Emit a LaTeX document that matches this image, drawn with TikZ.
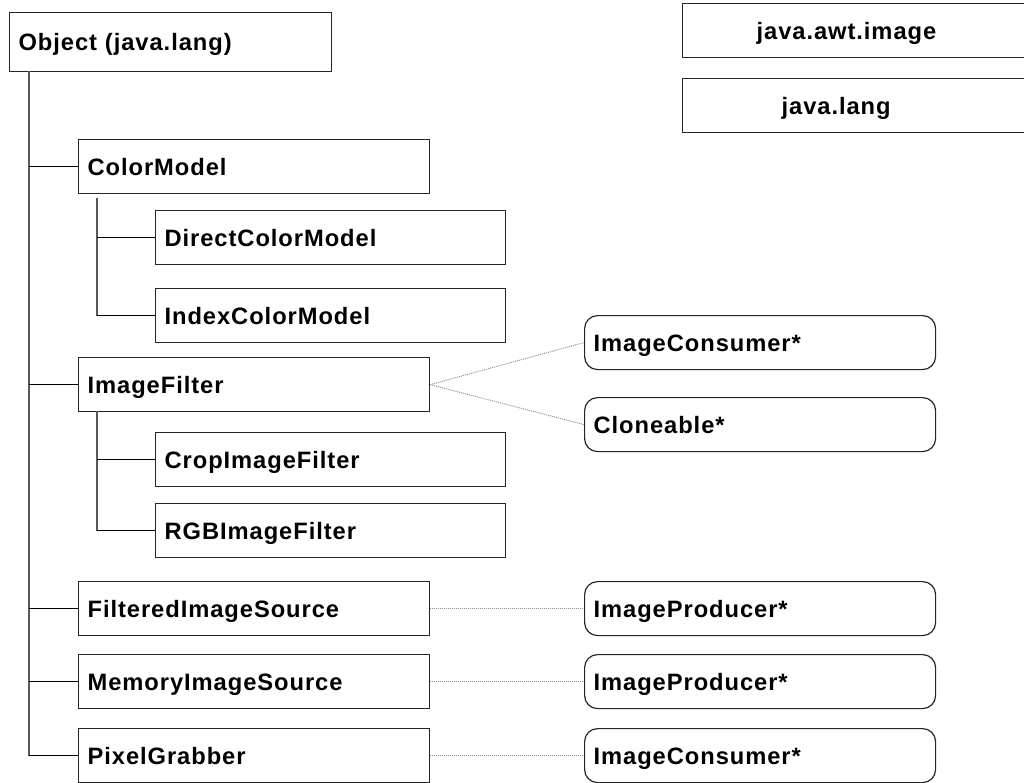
\documentclass[tikz,border=0pt]{standalone}
\usepackage{fontspec}
\newfontfamily\lblfont{Liberation Sans}[LetterSpace=4]
\begin{document}
\begin{tikzpicture}[x=1pt,y=-1pt,
  lbl/.style={font=\lblfont\bfseries\fontsize{23.7}{28}\selectfont},
  cls/.style={lbl, draw=black!85, line width=1.2pt, fill=white, anchor=north west,
    minimum height=54pt, inner ysep=0pt, inner xsep=9pt, align=left,
    text height=17pt, text depth=0pt, text width=#1},
  cls/.default=333pt,
  sub/.style={cls=332pt},
  iface/.style={cls, rounded corners=13pt},
  trunk/.style={draw=black!65, line width=1.3pt},
  branch/.style={draw=black, line width=1pt},
  impl/.style={draw=black!45, line width=0.9pt, dash pattern=on 1pt off 1pt}]
\path[use as bounding box, fill=white] (0,0) rectangle (1024,783);

% legend boxes
\node[cls=342pt] (awt) at (682,3) {\hspace*{65pt}java.awt.image};
\node[cls=342pt] (lang) at (682,78) {\hspace*{90pt}java.lang};

% classes
\node[cls=304pt, minimum height=59pt] (obj) at (9,12) {Object (java.lang)};
\node[cls] (cm) at (78,139) {ColorModel};
\node[sub] (dcm) at (155,210) {DirectColorModel};
\node[sub] (icm) at (155,288) {IndexColorModel};
\node[cls] (imf) at (78,357) {ImageFilter};
\node[sub] (crop) at (155,432) {CropImageFilter};
\node[sub] (rgb) at (155,503) {RGBImageFilter};
\node[cls] (fis) at (78,581) {FilteredImageSource};
\node[cls] (mis) at (78,654) {MemoryImageSource};
\node[cls] (pg) at (78,728) {PixelGrabber};

% interfaces
\node[iface] (ic1) at (584,315) {ImageConsumer*};
\node[iface] (cl) at (584,397) {Cloneable*};
\node[iface] (ip1) at (584,581) {ImageProducer*};
\node[iface] (ip2) at (584,654) {ImageProducer*};
\node[iface] (ic2) at (584,728) {ImageConsumer*};

% trunk lines
\coordinate (tr) at (29,71);
\coordinate (cmsub) at (97,198);
\coordinate (imsub) at (97,411);
\draw[trunk] (tr) -- (tr |- pg.west);
\draw[branch] (tr |- pg.west) -- (pg.west);
\foreach \n in {cm,imf,fis,mis} {\draw[branch] (tr |- \n.west) -- (\n.west);}
\draw[trunk] (cmsub) -- (cmsub |- icm.west);
\draw[branch] (cmsub |- dcm.west) -- (dcm.west);
\draw[branch] (cmsub |- icm.west) -- (icm.west);
\draw[trunk] (imsub) -- (imsub |- rgb.west);
\draw[branch] (imsub |- crop.west) -- (crop.west);
\draw[branch] (imsub |- rgb.west) -- (rgb.west);

% implements
\draw[impl] (imf.east) -- (ic1.west);
\draw[impl] (imf.east) -- (cl.west);
\draw[impl] (fis.east) -- (ip1.west);
\draw[impl] (mis.east) -- (ip2.west);
\draw[impl] (pg.east) -- (ic2.west);
\end{tikzpicture}
\end{document}
